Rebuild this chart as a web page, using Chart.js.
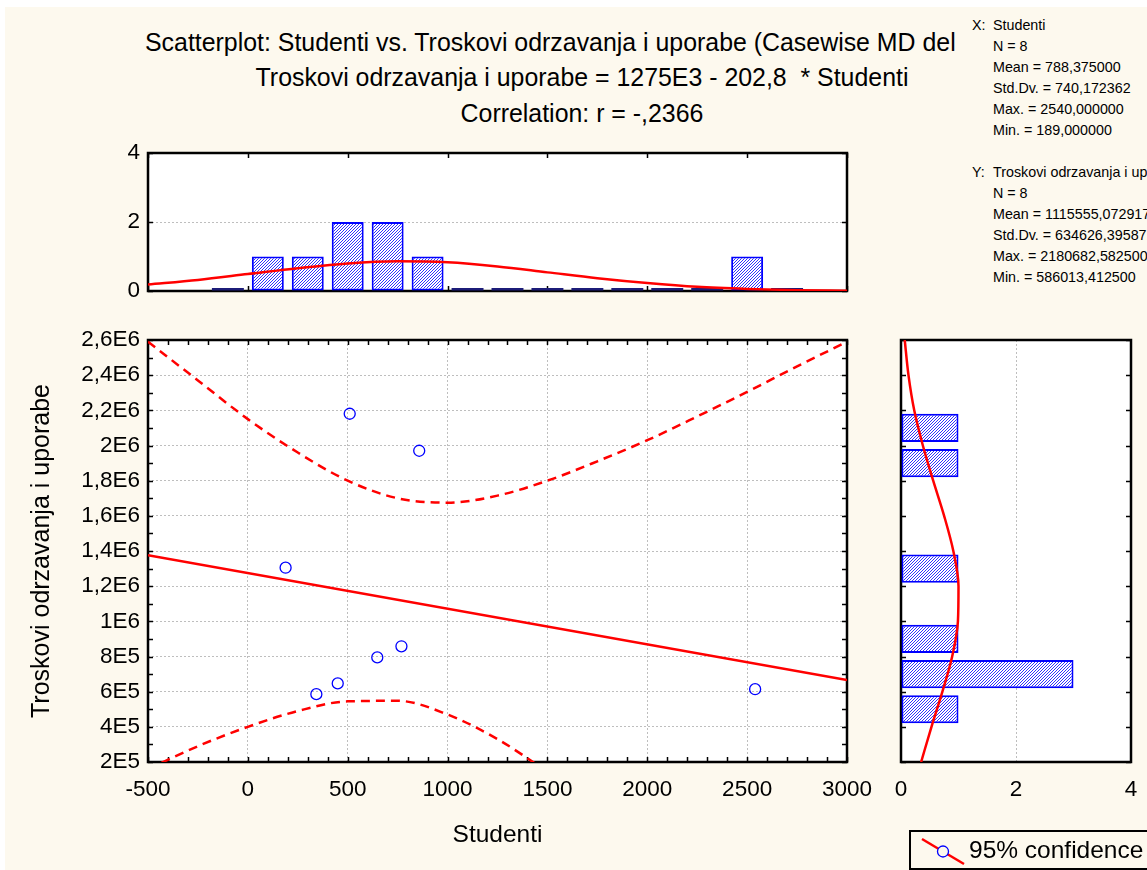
<!DOCTYPE html>
<html lang="hr">
<head>
<meta charset="UTF-8">
<title>Scatterplot: Studenti vs. Troskovi odrzavanja i uporabe</title>
<script src="https://cdn.jsdelivr.net/npm/chart.js"></script>
<style>
  html, body { margin: 0; padding: 0; background: #fff; overflow: hidden; }
  body { width: 1147px; height: 870px; position: relative; font-family: "Liberation Sans", Arial, sans-serif; color: #000; }
  #bg { position: absolute; left: 5px; top: 7px; right: 0; bottom: 0; background: #FDF9EE; }
  canvas { position: absolute; }
  .title { position: absolute; white-space: pre; font-size: 24.9px; line-height: 30px; }
  #t1wrap { position: absolute; left: 0; top: 27px; width: 956px; height: 32px; overflow: hidden; }
  #t1 { left: 145px; top: 0; }
  #t2 { left: 0; width: 1164px; text-align: center; top: 62px; }
  #t3 { left: 0; width: 1164px; text-align: center; top: 98px; }
  .stats { position: absolute; white-space: pre; font-size: 14.3px; line-height: 21px; }
  #legend { position: absolute; left: 909px; top: 830px; width: 260px; height: 36px; border: 2px solid #000; }
  #legend svg { position: absolute; left: 8px; top: 4px; }
  #legend span { position: absolute; left: 58px; top: 3px; font-size: 24.5px; line-height: 30px; white-space: pre; }
</style>
</head>
<body>
<div id="bg"></div>
<div id="t1wrap"><div class="title" id="t1">Scatterplot: Studenti vs. Troskovi odrzavanja i uporabe (Casewise MD deletion)</div></div>
<div class="title" id="t2">Troskovi odrzavanja i uporabe = 1275E3 - 202,8  * Studenti</div>
<div class="title" id="t3">Correlation: r = -,2366</div>

<div class="stats" style="left:972px;top:15px">X:</div>
<div class="stats" style="left:972px;top:162px">Y:</div>
<div class="stats" style="left:993px;top:15px">Studenti
N = 8
Mean = 788,375000
Std.Dv. = 740,172362
Max. = 2540,000000
Min. = 189,000000

Troskovi odrzavanja i uporabe
N = 8
Mean = 1115555,072917
Std.Dv. = 634626,395871
Max. = 2180682,582500
Min. = 586013,412500</div>

<canvas id="topHist" width="880" height="175" style="left:0;top:130px"></canvas>
<canvas id="main" width="880" height="550" style="left:0;top:320px"></canvas>
<canvas id="rightHist" width="277" height="550" style="left:870px;top:320px"></canvas>

<div id="legend">
  <svg width="50" height="32"><line x1="3" y1="3" x2="45" y2="28" stroke="#FF0000" stroke-width="2.5"/><circle cx="24" cy="15.5" r="5.5" fill="#FDF9EE" stroke="#0000FF" stroke-width="1.3"/></svg>
  <span>95% confidence</span>
</div>

<script>
    // scatter points (Studenti, Troskovi odrzavanja i uporabe)
    const studenti = [189, 510, 858, 343, 450, 648, 769, 2540];
    const troskovi = [1305000, 2180683, 1970000, 586013, 647000, 795000, 858000, 614000];

    // fitted line and 95% confidence band
    const fitX = [-500, 3000];
    const fitY = [1376400, 666600];
    const bandX = [-500, -250, 0, 250, 500, 750, 1000, 1250, 1500, 1750, 2000, 2250, 2500, 2750, 3000];
    const upperBand = [2590000, 2370000, 2150000, 1960000, 1800000, 1700000, 1675000, 1715000, 1800000, 1910000, 2030000, 2165000, 2305000, 2450000, 2590000];
    const lowerBand = [160000, 290000, 400000, 490000, 545000, 548000, 470000, 330000, 145000];

    // histogram of Studenti (top)
    const xBins = [-100, 100, 300, 500, 700, 900, 1100, 1300, 1500, 1700, 1900, 2100, 2300, 2500, 2700];
    const xCounts = [0, 1, 1, 2, 2, 1, 0, 0, 0, 0, 0, 0, 0, 1, 0];
    const xCurve = [0.19, 0.32, 0.49, 0.66, 0.80, 0.86, 0.83, 0.71, 0.54, 0.37, 0.23, 0.12, 0.06, 0.025, 0.01];

    // histogram of Troskovi (right)
    const yBins = [300000, 500000, 700000, 900000, 1100000, 1300000, 1500000, 1700000, 1900000, 2100000, 2300000, 2500000];
    const yCounts = [0, 1, 3, 1, 0, 1, 0, 0, 1, 1, 0, 0];
    const yCurveAt = [200000, 400000, 600000, 800000, 1000000, 1200000, 1400000, 1600000, 1800000, 2000000, 2200000, 2400000, 2600000];
    const yCurve = [0.35, 0.53, 0.72, 0.89, 0.99, 1.0, 0.91, 0.75, 0.56, 0.38, 0.23, 0.13, 0.065];

    const xTickLabels = ['-500', '0', '500', '1000', '1500', '2000', '2500', '3000'];
    const yTickLabels = ['2E5', '4E5', '6E5', '8E5', '1E6', '1,2E6', '1,4E6', '1,6E6', '1,8E6', '2E6', '2,2E6', '2,4E6', '2,6E6'];
    const countTickLabels = ['0', '2', '4'];

    Chart.defaults.font.family = '"Liberation Sans", Arial, sans-serif';
    Chart.defaults.color = '#000';

    const RED = '#FF0000';
    const BLUE = '#0000FF';
    const tickFont = { size: 22.5 };
    const titleFont = { size: 24.5 };
    const dotGrid = { color: '#BEBEBE', lineWidth: 1, drawTicks: false };
    const dotBorder = { display: false, dash: [2, 2] };

    // blue "////" hatch on white, pixel by pixel so it stays crisp
    function makeHatch() {
        const n = 3;
        const c = document.createElement('canvas');
        c.width = n; c.height = n;
        const g = c.getContext('2d');
        g.fillStyle = '#fff';
        g.fillRect(0, 0, n, n);
        g.fillStyle = '#3030FF';
        for (let i = 0; i < n; i++) g.fillRect(i, n - 1 - i, 1, 1);
        return g.createPattern(c, 'repeat');
    }
    const hatch = makeHatch();

    // white plot area, black frame and inward tick marks
    const framePlugin = {
        id: 'frame',
        beforeDraw(chart) {
            const a = chart.chartArea, ctx = chart.ctx;
            ctx.save();
            ctx.fillStyle = '#fff';
            ctx.fillRect(a.left, a.top, a.width, a.height);
            ctx.restore();
        },
        beforeDatasetsDraw(chart, args, opts) {
            const { ctx, chartArea: a, scales } = chart;
            const len = 5;
            ctx.save();
            ctx.strokeStyle = '#000';
            ctx.lineWidth = 1.5;
            ctx.beginPath();
            if (opts.xStep) {
                const s = scales.x;
                const n = Math.round((s.max - s.min) / opts.xStep);
                for (let i = 0; i <= n; i++) {
                    const px = Math.round(s.getPixelForValue(s.min + i * opts.xStep)) + 0.5;
                    ctx.moveTo(px, a.bottom); ctx.lineTo(px, a.bottom - len);
                    ctx.moveTo(px, a.top); ctx.lineTo(px, a.top + len);
                }
            }
            if (opts.yStep) {
                const s = scales.y;
                const n = Math.round((s.max - s.min) / opts.yStep);
                for (let i = 0; i <= n; i++) {
                    const py = Math.round(s.getPixelForValue(s.min + i * opts.yStep)) + 0.5;
                    ctx.moveTo(a.left, py); ctx.lineTo(a.left + len, py);
                    ctx.moveTo(a.right, py); ctx.lineTo(a.right - len, py);
                }
            }
            ctx.stroke();
            ctx.lineWidth = 2.5;
            ctx.strokeRect(a.left, a.top, a.width, a.height);
            ctx.restore();
        }
    };

    function noPadX(s) { s.paddingLeft = 0; s.paddingRight = 0; }
    function noPadY(s) { s.paddingTop = 0; s.paddingBottom = 0; }

    const common = {
        responsive: false,
        animation: false,
        events: []
    };

    // main scatterplot
    new Chart(document.getElementById('main'), {
        type: 'scatter',
        data: {
            datasets: [
                {
                    label: 'Studenti vs. Troskovi',
                    data: studenti.map((x, i) => ({ x: x, y: troskovi[i] })),
                    pointRadius: 5.5,
                    pointBorderWidth: 1.3,
                    borderColor: BLUE,
                    backgroundColor: 'rgba(0,0,0,0)'
                },
                {
                    label: 'Regression',
                    data: fitX.map((x, i) => ({ x: x, y: fitY[i] })),
                    showLine: true,
                    borderColor: RED,
                    borderWidth: 2.5,
                    pointRadius: 0
                },
                {
                    label: '95% confidence',
                    data: bandX.map((x, i) => ({ x: x, y: upperBand[i] })),
                    showLine: true,
                    borderColor: RED,
                    borderWidth: 2.5,
                    borderDash: [9, 6],
                    cubicInterpolationMode: 'monotone',
                    pointRadius: 0
                },
                {
                    label: '95% confidence (lower)',
                    data: lowerBand.map((y, i) => ({ x: bandX[i], y: y })),
                    showLine: true,
                    borderColor: RED,
                    borderWidth: 2.5,
                    borderDash: [9, 6],
                    cubicInterpolationMode: 'monotone',
                    pointRadius: 0
                }
            ]
        },
        options: {
            ...common,
            layout: { padding: { left: 0, top: 20, right: 33, bottom: 0 } },
            plugins: {
                legend: { display: false },
                tooltip: { enabled: false },
                frame: { xStep: 100, yStep: 100000 }
            },
            scales: {
                x: {
                    type: 'linear', min: -500, max: 3000,
                    afterFit: s => { s.height = 108; noPadX(s); },
                    ticks: { stepSize: 500, font: tickFont, padding: 14, maxRotation: 0, autoSkip: false,
                             callback: (v, i) => xTickLabels[i] },
                    grid: dotGrid,
                    border: dotBorder,
                    title: { display: true, text: 'Studenti', font: titleFont, padding: { top: 0, bottom: 20 } }
                },
                y: {
                    type: 'linear', min: 200000, max: 2600000,
                    afterFit: s => { s.width = 148; noPadY(s); },
                    ticks: { stepSize: 200000, font: tickFont, padding: 8, autoSkip: false,
                             callback: (v, i) => yTickLabels[i] },
                    grid: dotGrid,
                    border: dotBorder,
                    title: { display: true, text: 'Troskovi odrzavanja i uporabe', font: { size: 25 }, padding: { top: 27, bottom: 0 } }
                }
            }
        },
        plugins: [framePlugin]
    });

    // top histogram (Studenti)
    new Chart(document.getElementById('topHist'), {
        type: 'bar',
        data: {
            datasets: [
                {
                    type: 'line',
                    label: 'Normal',
                    data: bandX.map((x, i) => ({ x: x, y: xCurve[i] })),
                    borderColor: RED,
                    borderWidth: 2.5,
                    cubicInterpolationMode: 'monotone',
                    pointRadius: 0
                },
                {
                    label: 'Studenti',
                    data: xBins.map((x, i) => ({ x: x, y: xCounts[i] })),
                    categoryPercentage: 1,
                    barPercentage: 0.8,
                    minBarLength: 3,
                    borderSkipped: false,
                    borderColor: BLUE,
                    borderWidth: c => (c.raw && c.raw.y > 0 ? 2 : 0),
                    backgroundColor: c => (c.raw && c.raw.y > 0 ? hatch : '#1C1C78')
                }
            ]
        },
        options: {
            ...common,
            layout: { padding: { left: 0, top: 23, right: 33, bottom: 14 } },
            plugins: {
                legend: { display: false },
                tooltip: { enabled: false },
                frame: { xStep: 500, yStep: 2 }
            },
            scales: {
                x: { type: 'linear', min: -500, max: 3000, offset: false, display: false, ticks: { stepSize: 500 } },
                y: {
                    type: 'linear', min: 0, max: 4,
                    afterFit: s => { s.width = 148; noPadY(s); },
                    ticks: { stepSize: 2, font: tickFont, padding: 8, callback: (v, i) => countTickLabels[i] },
                    grid: dotGrid,
                    border: dotBorder
                }
            }
        },
        plugins: [framePlugin]
    });

    // right histogram (Troskovi)
    new Chart(document.getElementById('rightHist'), {
        type: 'bar',
        data: {
            datasets: [
                {
                    type: 'line',
                    indexAxis: 'y',
                    label: 'Normal',
                    data: yCurveAt.map((y, i) => ({ x: yCurve[i], y: y })),
                    borderColor: RED,
                    borderWidth: 2.5,
                    cubicInterpolationMode: 'monotone',
                    pointRadius: 0
                },
                {
                    label: 'Troskovi odrzavanja i uporabe',
                    data: yBins.map((y, i) => ({ x: yCounts[i], y: y })),
                    categoryPercentage: 1,
                    barPercentage: 0.8,
                    borderSkipped: false,
                    borderColor: BLUE,
                    borderWidth: c => (c.raw && c.raw.x > 0 ? 2 : 0),
                    backgroundColor: hatch
                }
            ]
        },
        options: {
            ...common,
            indexAxis: 'y',
            layout: { padding: { left: 31, top: 20, right: 16, bottom: 0 } },
            plugins: {
                legend: { display: false },
                tooltip: { enabled: false },
                frame: { yStep: 200000 }
            },
            scales: {
                x: {
                    type: 'linear', min: 0, max: 4,
                    afterFit: s => { s.height = 108; noPadX(s); },
                    ticks: { stepSize: 2, font: tickFont, padding: 14, callback: (v, i) => countTickLabels[i] },
                    grid: dotGrid,
                    border: dotBorder
                },
                y: { type: 'linear', min: 200000, max: 2600000, offset: false, display: false, ticks: { stepSize: 200000 } }
            }
        },
        plugins: [framePlugin]
    });
</script>
</body>
</html>
